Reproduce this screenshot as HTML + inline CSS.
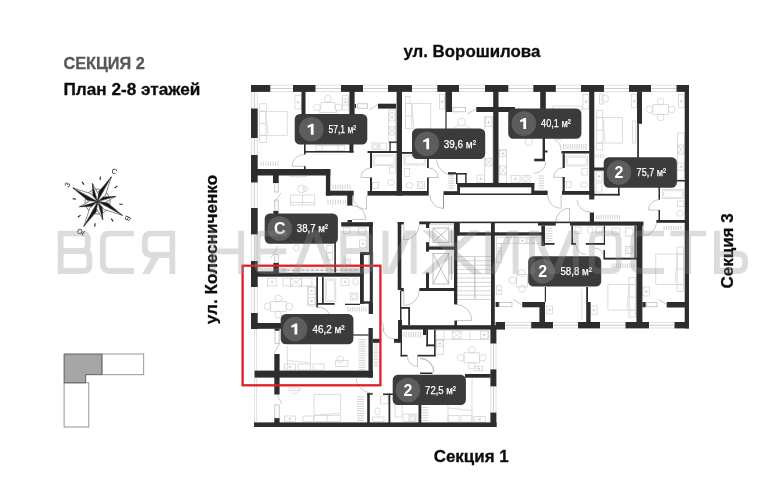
<!DOCTYPE html>
<html><head><meta charset="utf-8"><title>plan</title>
<style>
html,body{margin:0;padding:0;background:#fff;}
body{width:784px;height:500px;overflow:hidden;position:relative;font-family:"Liberation Sans",sans-serif;}
svg{position:absolute;left:0;top:0;will-change:transform;}
svg text{font-family:"Liberation Sans",sans-serif;}
</style></head><body>
<svg width="784" height="500" viewBox="0 0 784 500">
<g id="furn">
<line x1="270.3" y1="85.4" x2="293" y2="85.4" stroke="#d4d4d4" stroke-width="0.7"/>
<line x1="270.3" y1="88.45" x2="293" y2="88.45" stroke="#cccccc" stroke-width="1"/>
<line x1="270.3" y1="91.5" x2="293" y2="91.5" stroke="#d4d4d4" stroke-width="0.7"/>
<line x1="315.5" y1="85.4" x2="341" y2="85.4" stroke="#d4d4d4" stroke-width="0.7"/>
<line x1="315.5" y1="88.45" x2="341" y2="88.45" stroke="#cccccc" stroke-width="1"/>
<line x1="315.5" y1="91.5" x2="341" y2="91.5" stroke="#d4d4d4" stroke-width="0.7"/>
<line x1="363" y1="85.4" x2="388" y2="85.4" stroke="#d4d4d4" stroke-width="0.7"/>
<line x1="363" y1="88.45" x2="388" y2="88.45" stroke="#cccccc" stroke-width="1"/>
<line x1="363" y1="91.5" x2="388" y2="91.5" stroke="#d4d4d4" stroke-width="0.7"/>
<line x1="412" y1="85.4" x2="437.3" y2="85.4" stroke="#d4d4d4" stroke-width="0.7"/>
<line x1="412" y1="88.45" x2="437.3" y2="88.45" stroke="#cccccc" stroke-width="1"/>
<line x1="412" y1="91.5" x2="437.3" y2="91.5" stroke="#d4d4d4" stroke-width="0.7"/>
<line x1="459" y1="85.4" x2="485" y2="85.4" stroke="#d4d4d4" stroke-width="0.7"/>
<line x1="459" y1="88.45" x2="485" y2="88.45" stroke="#cccccc" stroke-width="1"/>
<line x1="459" y1="91.5" x2="485" y2="91.5" stroke="#d4d4d4" stroke-width="0.7"/>
<line x1="508.3" y1="85.4" x2="533.3" y2="85.4" stroke="#d4d4d4" stroke-width="0.7"/>
<line x1="508.3" y1="88.45" x2="533.3" y2="88.45" stroke="#cccccc" stroke-width="1"/>
<line x1="508.3" y1="91.5" x2="533.3" y2="91.5" stroke="#d4d4d4" stroke-width="0.7"/>
<line x1="555.8" y1="85.4" x2="581" y2="85.4" stroke="#d4d4d4" stroke-width="0.7"/>
<line x1="555.8" y1="88.45" x2="581" y2="88.45" stroke="#cccccc" stroke-width="1"/>
<line x1="555.8" y1="91.5" x2="581" y2="91.5" stroke="#d4d4d4" stroke-width="0.7"/>
<line x1="604" y1="85.4" x2="629" y2="85.4" stroke="#d4d4d4" stroke-width="0.7"/>
<line x1="604" y1="88.45" x2="629" y2="88.45" stroke="#cccccc" stroke-width="1"/>
<line x1="604" y1="91.5" x2="629" y2="91.5" stroke="#d4d4d4" stroke-width="0.7"/>
<line x1="651" y1="85.4" x2="676.5" y2="85.4" stroke="#d4d4d4" stroke-width="0.7"/>
<line x1="651" y1="88.45" x2="676.5" y2="88.45" stroke="#cccccc" stroke-width="1"/>
<line x1="651" y1="91.5" x2="676.5" y2="91.5" stroke="#d4d4d4" stroke-width="0.7"/>
<line x1="251.4" y1="91.5" x2="251.4" y2="108.5" stroke="#d4d4d4" stroke-width="0.7"/>
<line x1="254.35" y1="91.5" x2="254.35" y2="108.5" stroke="#cccccc" stroke-width="1"/>
<line x1="257.3" y1="91.5" x2="257.3" y2="108.5" stroke="#d4d4d4" stroke-width="0.7"/>
<line x1="251.4" y1="138" x2="251.4" y2="155" stroke="#d4d4d4" stroke-width="0.7"/>
<line x1="254.35" y1="138" x2="254.35" y2="155" stroke="#cccccc" stroke-width="1"/>
<line x1="257.3" y1="138" x2="257.3" y2="155" stroke="#d4d4d4" stroke-width="0.7"/>
<line x1="251.4" y1="182.5" x2="251.4" y2="208" stroke="#d4d4d4" stroke-width="0.7"/>
<line x1="254.35" y1="182.5" x2="254.35" y2="208" stroke="#cccccc" stroke-width="1"/>
<line x1="257.3" y1="182.5" x2="257.3" y2="208" stroke="#d4d4d4" stroke-width="0.7"/>
<line x1="251.4" y1="234.4" x2="251.4" y2="261" stroke="#d4d4d4" stroke-width="0.7"/>
<line x1="254.35" y1="234.4" x2="254.35" y2="261" stroke="#cccccc" stroke-width="1"/>
<line x1="257.3" y1="234.4" x2="257.3" y2="261" stroke="#d4d4d4" stroke-width="0.7"/>
<line x1="251.4" y1="287" x2="251.4" y2="313" stroke="#d4d4d4" stroke-width="0.7"/>
<line x1="254.35" y1="287" x2="254.35" y2="313" stroke="#cccccc" stroke-width="1"/>
<line x1="257.3" y1="287" x2="257.3" y2="313" stroke="#d4d4d4" stroke-width="0.7"/>
<rect x="254.6" y="329" width="2" height="93.4" fill="none" stroke="#cfcfcf" stroke-width="0.6"/>
<line x1="505" y1="322.4" x2="531.2" y2="322.4" stroke="#d4d4d4" stroke-width="0.7"/>
<line x1="505" y1="325.2" x2="531.2" y2="325.2" stroke="#cccccc" stroke-width="1"/>
<line x1="505" y1="328" x2="531.2" y2="328" stroke="#d4d4d4" stroke-width="0.7"/>
<line x1="553" y1="322.4" x2="578" y2="322.4" stroke="#d4d4d4" stroke-width="0.7"/>
<line x1="553" y1="325.2" x2="578" y2="325.2" stroke="#cccccc" stroke-width="1"/>
<line x1="553" y1="328" x2="578" y2="328" stroke="#d4d4d4" stroke-width="0.7"/>
<line x1="600" y1="322.4" x2="625.5" y2="322.4" stroke="#d4d4d4" stroke-width="0.7"/>
<line x1="600" y1="325.2" x2="625.5" y2="325.2" stroke="#cccccc" stroke-width="1"/>
<line x1="600" y1="328" x2="625.5" y2="328" stroke="#d4d4d4" stroke-width="0.7"/>
<line x1="649" y1="322.4" x2="674.5" y2="322.4" stroke="#d4d4d4" stroke-width="0.7"/>
<line x1="649" y1="325.2" x2="674.5" y2="325.2" stroke="#cccccc" stroke-width="1"/>
<line x1="649" y1="328" x2="674.5" y2="328" stroke="#d4d4d4" stroke-width="0.7"/>
<line x1="490.8" y1="343.5" x2="490.8" y2="369.4" stroke="#d4d4d4" stroke-width="0.7"/>
<line x1="493.4" y1="343.5" x2="493.4" y2="369.4" stroke="#cccccc" stroke-width="1"/>
<line x1="496" y1="343.5" x2="496" y2="369.4" stroke="#d4d4d4" stroke-width="0.7"/>
<line x1="490.8" y1="386.4" x2="490.8" y2="412.6" stroke="#d4d4d4" stroke-width="0.7"/>
<line x1="493.4" y1="386.4" x2="493.4" y2="412.6" stroke="#cccccc" stroke-width="1"/>
<line x1="496" y1="386.4" x2="496" y2="412.6" stroke="#d4d4d4" stroke-width="0.7"/>
<line x1="261" y1="161.5" x2="261" y2="166" stroke="#c8c8c8" stroke-width="0.8"/>
<line x1="263.429" y1="161.5" x2="263.429" y2="166" stroke="#c8c8c8" stroke-width="0.8"/>
<line x1="265.857" y1="161.5" x2="265.857" y2="166" stroke="#c8c8c8" stroke-width="0.8"/>
<line x1="268.286" y1="161.5" x2="268.286" y2="166" stroke="#c8c8c8" stroke-width="0.8"/>
<line x1="270.714" y1="161.5" x2="270.714" y2="166" stroke="#c8c8c8" stroke-width="0.8"/>
<line x1="273.143" y1="161.5" x2="273.143" y2="166" stroke="#c8c8c8" stroke-width="0.8"/>
<line x1="275.571" y1="161.5" x2="275.571" y2="166" stroke="#c8c8c8" stroke-width="0.8"/>
<line x1="278" y1="161.5" x2="278" y2="166" stroke="#c8c8c8" stroke-width="0.8"/>
<line x1="333" y1="184.5" x2="333" y2="189" stroke="#c8c8c8" stroke-width="0.8"/>
<line x1="335.429" y1="184.5" x2="335.429" y2="189" stroke="#c8c8c8" stroke-width="0.8"/>
<line x1="337.857" y1="184.5" x2="337.857" y2="189" stroke="#c8c8c8" stroke-width="0.8"/>
<line x1="340.286" y1="184.5" x2="340.286" y2="189" stroke="#c8c8c8" stroke-width="0.8"/>
<line x1="342.714" y1="184.5" x2="342.714" y2="189" stroke="#c8c8c8" stroke-width="0.8"/>
<line x1="345.143" y1="184.5" x2="345.143" y2="189" stroke="#c8c8c8" stroke-width="0.8"/>
<line x1="347.571" y1="184.5" x2="347.571" y2="189" stroke="#c8c8c8" stroke-width="0.8"/>
<line x1="350" y1="184.5" x2="350" y2="189" stroke="#c8c8c8" stroke-width="0.8"/>
<line x1="328" y1="199.8" x2="328" y2="204.5" stroke="#c8c8c8" stroke-width="0.8"/>
<line x1="330.5" y1="199.8" x2="330.5" y2="204.5" stroke="#c8c8c8" stroke-width="0.8"/>
<line x1="333" y1="199.8" x2="333" y2="204.5" stroke="#c8c8c8" stroke-width="0.8"/>
<line x1="335.5" y1="199.8" x2="335.5" y2="204.5" stroke="#c8c8c8" stroke-width="0.8"/>
<line x1="338" y1="199.8" x2="338" y2="204.5" stroke="#c8c8c8" stroke-width="0.8"/>
<line x1="340.5" y1="199.8" x2="340.5" y2="204.5" stroke="#c8c8c8" stroke-width="0.8"/>
<line x1="343" y1="199.8" x2="343" y2="204.5" stroke="#c8c8c8" stroke-width="0.8"/>
<line x1="345.5" y1="199.8" x2="345.5" y2="204.5" stroke="#c8c8c8" stroke-width="0.8"/>
<line x1="358.5" y1="339.5" x2="365.5" y2="339.5" stroke="#c8c8c8" stroke-width="0.8"/>
<line x1="358.5" y1="341.821" x2="365.5" y2="341.821" stroke="#c8c8c8" stroke-width="0.8"/>
<line x1="358.5" y1="344.143" x2="365.5" y2="344.143" stroke="#c8c8c8" stroke-width="0.8"/>
<line x1="358.5" y1="346.464" x2="365.5" y2="346.464" stroke="#c8c8c8" stroke-width="0.8"/>
<line x1="358.5" y1="348.786" x2="365.5" y2="348.786" stroke="#c8c8c8" stroke-width="0.8"/>
<line x1="358.5" y1="351.107" x2="365.5" y2="351.107" stroke="#c8c8c8" stroke-width="0.8"/>
<line x1="358.5" y1="353.429" x2="365.5" y2="353.429" stroke="#c8c8c8" stroke-width="0.8"/>
<line x1="358.5" y1="355.75" x2="365.5" y2="355.75" stroke="#c8c8c8" stroke-width="0.8"/>
<line x1="358.5" y1="358.071" x2="365.5" y2="358.071" stroke="#c8c8c8" stroke-width="0.8"/>
<line x1="358.5" y1="360.393" x2="365.5" y2="360.393" stroke="#c8c8c8" stroke-width="0.8"/>
<line x1="358.5" y1="362.714" x2="365.5" y2="362.714" stroke="#c8c8c8" stroke-width="0.8"/>
<line x1="358.5" y1="365.036" x2="365.5" y2="365.036" stroke="#c8c8c8" stroke-width="0.8"/>
<line x1="358.5" y1="367.357" x2="365.5" y2="367.357" stroke="#c8c8c8" stroke-width="0.8"/>
<line x1="358.5" y1="369.679" x2="365.5" y2="369.679" stroke="#c8c8c8" stroke-width="0.8"/>
<line x1="358.5" y1="372" x2="365.5" y2="372" stroke="#c8c8c8" stroke-width="0.8"/>
<line x1="374" y1="344" x2="378" y2="344" stroke="#c8c8c8" stroke-width="0.8"/>
<line x1="374" y1="346.2" x2="378" y2="346.2" stroke="#c8c8c8" stroke-width="0.8"/>
<line x1="374" y1="348.4" x2="378" y2="348.4" stroke="#c8c8c8" stroke-width="0.8"/>
<line x1="374" y1="350.6" x2="378" y2="350.6" stroke="#c8c8c8" stroke-width="0.8"/>
<line x1="374" y1="352.8" x2="378" y2="352.8" stroke="#c8c8c8" stroke-width="0.8"/>
<line x1="374" y1="355" x2="378" y2="355" stroke="#c8c8c8" stroke-width="0.8"/>
<line x1="374" y1="357.2" x2="378" y2="357.2" stroke="#c8c8c8" stroke-width="0.8"/>
<line x1="374" y1="359.4" x2="378" y2="359.4" stroke="#c8c8c8" stroke-width="0.8"/>
<line x1="374" y1="361.6" x2="378" y2="361.6" stroke="#c8c8c8" stroke-width="0.8"/>
<line x1="374" y1="363.8" x2="378" y2="363.8" stroke="#c8c8c8" stroke-width="0.8"/>
<line x1="374" y1="366" x2="378" y2="366" stroke="#c8c8c8" stroke-width="0.8"/>
<line x1="563.5" y1="144" x2="563.5" y2="149.5" stroke="#c8c8c8" stroke-width="0.8"/>
<line x1="565.75" y1="144" x2="565.75" y2="149.5" stroke="#c8c8c8" stroke-width="0.8"/>
<line x1="568" y1="144" x2="568" y2="149.5" stroke="#c8c8c8" stroke-width="0.8"/>
<line x1="570.25" y1="144" x2="570.25" y2="149.5" stroke="#c8c8c8" stroke-width="0.8"/>
<line x1="572.5" y1="144" x2="572.5" y2="149.5" stroke="#c8c8c8" stroke-width="0.8"/>
<line x1="574.75" y1="144" x2="574.75" y2="149.5" stroke="#c8c8c8" stroke-width="0.8"/>
<line x1="577" y1="144" x2="577" y2="149.5" stroke="#c8c8c8" stroke-width="0.8"/>
<line x1="579.25" y1="144" x2="579.25" y2="149.5" stroke="#c8c8c8" stroke-width="0.8"/>
<line x1="581.5" y1="144" x2="581.5" y2="149.5" stroke="#c8c8c8" stroke-width="0.8"/>
<line x1="583.75" y1="144" x2="583.75" y2="149.5" stroke="#c8c8c8" stroke-width="0.8"/>
<line x1="586" y1="144" x2="586" y2="149.5" stroke="#c8c8c8" stroke-width="0.8"/>
<line x1="348" y1="307" x2="348" y2="311.5" stroke="#c8c8c8" stroke-width="0.8"/>
<line x1="350.25" y1="307" x2="350.25" y2="311.5" stroke="#c8c8c8" stroke-width="0.8"/>
<line x1="352.5" y1="307" x2="352.5" y2="311.5" stroke="#c8c8c8" stroke-width="0.8"/>
<line x1="354.75" y1="307" x2="354.75" y2="311.5" stroke="#c8c8c8" stroke-width="0.8"/>
<line x1="357" y1="307" x2="357" y2="311.5" stroke="#c8c8c8" stroke-width="0.8"/>
<line x1="359.25" y1="307" x2="359.25" y2="311.5" stroke="#c8c8c8" stroke-width="0.8"/>
<line x1="361.5" y1="307" x2="361.5" y2="311.5" stroke="#c8c8c8" stroke-width="0.8"/>
<line x1="363.75" y1="307" x2="363.75" y2="311.5" stroke="#c8c8c8" stroke-width="0.8"/>
<line x1="366" y1="307" x2="366" y2="311.5" stroke="#c8c8c8" stroke-width="0.8"/>
<line x1="596" y1="154" x2="596" y2="158" stroke="#c8c8c8" stroke-width="0.8"/>
<line x1="598.333" y1="154" x2="598.333" y2="158" stroke="#c8c8c8" stroke-width="0.8"/>
<line x1="600.667" y1="154" x2="600.667" y2="158" stroke="#c8c8c8" stroke-width="0.8"/>
<line x1="603" y1="154" x2="603" y2="158" stroke="#c8c8c8" stroke-width="0.8"/>
<line x1="596.5" y1="214.8" x2="596.5" y2="219.4" stroke="#c8c8c8" stroke-width="0.8"/>
<line x1="598.8" y1="214.8" x2="598.8" y2="219.4" stroke="#c8c8c8" stroke-width="0.8"/>
<line x1="601.1" y1="214.8" x2="601.1" y2="219.4" stroke="#c8c8c8" stroke-width="0.8"/>
<line x1="603.4" y1="214.8" x2="603.4" y2="219.4" stroke="#c8c8c8" stroke-width="0.8"/>
<line x1="605.7" y1="214.8" x2="605.7" y2="219.4" stroke="#c8c8c8" stroke-width="0.8"/>
<line x1="608" y1="214.8" x2="608" y2="219.4" stroke="#c8c8c8" stroke-width="0.8"/>
<line x1="610.3" y1="214.8" x2="610.3" y2="219.4" stroke="#c8c8c8" stroke-width="0.8"/>
<line x1="612.6" y1="214.8" x2="612.6" y2="219.4" stroke="#c8c8c8" stroke-width="0.8"/>
<line x1="614.9" y1="214.8" x2="614.9" y2="219.4" stroke="#c8c8c8" stroke-width="0.8"/>
<line x1="617.2" y1="214.8" x2="617.2" y2="219.4" stroke="#c8c8c8" stroke-width="0.8"/>
<line x1="619.5" y1="214.8" x2="619.5" y2="219.4" stroke="#c8c8c8" stroke-width="0.8"/>
<line x1="664" y1="226" x2="664" y2="230" stroke="#c8c8c8" stroke-width="0.8"/>
<line x1="666.429" y1="226" x2="666.429" y2="230" stroke="#c8c8c8" stroke-width="0.8"/>
<line x1="668.857" y1="226" x2="668.857" y2="230" stroke="#c8c8c8" stroke-width="0.8"/>
<line x1="671.286" y1="226" x2="671.286" y2="230" stroke="#c8c8c8" stroke-width="0.8"/>
<line x1="673.714" y1="226" x2="673.714" y2="230" stroke="#c8c8c8" stroke-width="0.8"/>
<line x1="676.143" y1="226" x2="676.143" y2="230" stroke="#c8c8c8" stroke-width="0.8"/>
<line x1="678.571" y1="226" x2="678.571" y2="230" stroke="#c8c8c8" stroke-width="0.8"/>
<line x1="681" y1="226" x2="681" y2="230" stroke="#c8c8c8" stroke-width="0.8"/>
<line x1="357" y1="397" x2="364" y2="397" stroke="#c8c8c8" stroke-width="0.8"/>
<line x1="357" y1="399.35" x2="364" y2="399.35" stroke="#c8c8c8" stroke-width="0.8"/>
<line x1="357" y1="401.7" x2="364" y2="401.7" stroke="#c8c8c8" stroke-width="0.8"/>
<line x1="357" y1="404.05" x2="364" y2="404.05" stroke="#c8c8c8" stroke-width="0.8"/>
<line x1="357" y1="406.4" x2="364" y2="406.4" stroke="#c8c8c8" stroke-width="0.8"/>
<line x1="357" y1="408.75" x2="364" y2="408.75" stroke="#c8c8c8" stroke-width="0.8"/>
<line x1="357" y1="411.1" x2="364" y2="411.1" stroke="#c8c8c8" stroke-width="0.8"/>
<line x1="357" y1="413.45" x2="364" y2="413.45" stroke="#c8c8c8" stroke-width="0.8"/>
<line x1="357" y1="415.8" x2="364" y2="415.8" stroke="#c8c8c8" stroke-width="0.8"/>
<line x1="357" y1="418.15" x2="364" y2="418.15" stroke="#c8c8c8" stroke-width="0.8"/>
<line x1="357" y1="420.5" x2="364" y2="420.5" stroke="#c8c8c8" stroke-width="0.8"/>
<line x1="422.3" y1="407.5" x2="428.3" y2="407.5" stroke="#c8c8c8" stroke-width="0.8"/>
<line x1="422.3" y1="410.1" x2="428.3" y2="410.1" stroke="#c8c8c8" stroke-width="0.8"/>
<line x1="422.3" y1="412.7" x2="428.3" y2="412.7" stroke="#c8c8c8" stroke-width="0.8"/>
<line x1="422.3" y1="415.3" x2="428.3" y2="415.3" stroke="#c8c8c8" stroke-width="0.8"/>
<line x1="422.3" y1="417.9" x2="428.3" y2="417.9" stroke="#c8c8c8" stroke-width="0.8"/>
<line x1="422.3" y1="420.5" x2="428.3" y2="420.5" stroke="#c8c8c8" stroke-width="0.8"/>
<line x1="404" y1="332" x2="404" y2="337.5" stroke="#c8c8c8" stroke-width="0.8"/>
<line x1="406.357" y1="332" x2="406.357" y2="337.5" stroke="#c8c8c8" stroke-width="0.8"/>
<line x1="408.714" y1="332" x2="408.714" y2="337.5" stroke="#c8c8c8" stroke-width="0.8"/>
<line x1="411.071" y1="332" x2="411.071" y2="337.5" stroke="#c8c8c8" stroke-width="0.8"/>
<line x1="413.429" y1="332" x2="413.429" y2="337.5" stroke="#c8c8c8" stroke-width="0.8"/>
<line x1="415.786" y1="332" x2="415.786" y2="337.5" stroke="#c8c8c8" stroke-width="0.8"/>
<line x1="418.143" y1="332" x2="418.143" y2="337.5" stroke="#c8c8c8" stroke-width="0.8"/>
<line x1="420.5" y1="332" x2="420.5" y2="337.5" stroke="#c8c8c8" stroke-width="0.8"/>
<line x1="612" y1="263.5" x2="612" y2="268" stroke="#c8c8c8" stroke-width="0.8"/>
<line x1="614.2" y1="263.5" x2="614.2" y2="268" stroke="#c8c8c8" stroke-width="0.8"/>
<line x1="616.4" y1="263.5" x2="616.4" y2="268" stroke="#c8c8c8" stroke-width="0.8"/>
<line x1="618.6" y1="263.5" x2="618.6" y2="268" stroke="#c8c8c8" stroke-width="0.8"/>
<line x1="620.8" y1="263.5" x2="620.8" y2="268" stroke="#c8c8c8" stroke-width="0.8"/>
<line x1="623" y1="263.5" x2="623" y2="268" stroke="#c8c8c8" stroke-width="0.8"/>
<line x1="625.2" y1="263.5" x2="625.2" y2="268" stroke="#c8c8c8" stroke-width="0.8"/>
<line x1="627.4" y1="263.5" x2="627.4" y2="268" stroke="#c8c8c8" stroke-width="0.8"/>
<line x1="629.6" y1="263.5" x2="629.6" y2="268" stroke="#c8c8c8" stroke-width="0.8"/>
<line x1="631.8" y1="263.5" x2="631.8" y2="268" stroke="#c8c8c8" stroke-width="0.8"/>
<line x1="634" y1="263.5" x2="634" y2="268" stroke="#c8c8c8" stroke-width="0.8"/>
<rect x="652.85" y="104.4" width="15.5" height="10" fill="none" stroke="#cfcfcf" stroke-width="0.7"/>
<circle cx="660.6" cy="101.4" r="3.4" fill="none" stroke="#cfcfcf" stroke-width="0.7"/>
<circle cx="660.6" cy="117.4" r="3.4" fill="none" stroke="#cfcfcf" stroke-width="0.7"/>
<circle cx="649.6" cy="109.4" r="3.4" fill="none" stroke="#cfcfcf" stroke-width="0.7"/>
<circle cx="671.6" cy="109.4" r="3.4" fill="none" stroke="#cfcfcf" stroke-width="0.7"/>
<rect x="270.65" y="301.5" width="15.5" height="10" fill="none" stroke="#cfcfcf" stroke-width="0.7"/>
<circle cx="278.4" cy="298.5" r="3.4" fill="none" stroke="#cfcfcf" stroke-width="0.7"/>
<circle cx="278.4" cy="314.5" r="3.4" fill="none" stroke="#cfcfcf" stroke-width="0.7"/>
<circle cx="267.4" cy="306.5" r="3.4" fill="none" stroke="#cfcfcf" stroke-width="0.7"/>
<circle cx="289.4" cy="306.5" r="3.4" fill="none" stroke="#cfcfcf" stroke-width="0.7"/>
<rect x="464.05" y="352.8" width="15.5" height="10" fill="none" stroke="#cfcfcf" stroke-width="0.7"/>
<circle cx="471.8" cy="349.8" r="3.4" fill="none" stroke="#cfcfcf" stroke-width="0.7"/>
<circle cx="471.8" cy="365.8" r="3.4" fill="none" stroke="#cfcfcf" stroke-width="0.7"/>
<circle cx="460.8" cy="357.8" r="3.4" fill="none" stroke="#cfcfcf" stroke-width="0.7"/>
<circle cx="482.8" cy="357.8" r="3.4" fill="none" stroke="#cfcfcf" stroke-width="0.7"/>
<circle cx="327.9" cy="98.8" r="3.4" fill="none" stroke="#cfcfcf" stroke-width="0.7"/>
<circle cx="316.9" cy="107.4" r="3.4" fill="none" stroke="#cfcfcf" stroke-width="0.7"/>
<circle cx="338.2" cy="107.4" r="3.4" fill="none" stroke="#cfcfcf" stroke-width="0.7"/>
<path d="M319.5 112.5L321.5 102.5H334.5L336.5 112.5Z" fill="none" stroke="#cfcfcf" stroke-width="0.7"/>
<rect x="259.7" y="111.7" width="27.5" height="23.6" fill="none" stroke="#cfcfcf" stroke-width="0.7"/>
<line x1="265.9" y1="111.7" x2="265.9" y2="135.3" stroke="#cfcfcf" stroke-width="0.7"/>
<line x1="259.7" y1="123.5" x2="265.9" y2="123.5" stroke="#cfcfcf" stroke-width="0.7"/>
<line x1="265.9" y1="112.7" x2="268.1" y2="134.3" stroke="#cfcfcf" stroke-width="0.7"/>
<rect x="259.7" y="103.8" width="6.6" height="7.2" fill="none" stroke="#cfcfcf" stroke-width="0.7"/>
<rect x="259.7" y="135.3" width="6.6" height="7.2" fill="none" stroke="#cfcfcf" stroke-width="0.7"/>
<rect x="294.9" y="95.7" width="6.4" height="13.2" fill="none" stroke="#cfcfcf" stroke-width="0.7"/>
<line x1="296.8" y1="102.3" x2="299.4" y2="102.3" stroke="#bdbdbd" stroke-width="0.7"/>
<line x1="298.1" y1="101" x2="298.1" y2="103.6" stroke="#bdbdbd" stroke-width="0.7"/>
<rect x="342.2" y="95.7" width="6.3" height="14.3" fill="none" stroke="#cfcfcf" stroke-width="0.7"/>
<rect x="342.6" y="99" width="5.6" height="6" fill="none" stroke="#cfcfcf" stroke-width="0.7"/>
<line x1="344.1" y1="102" x2="346.7" y2="102" stroke="#bdbdbd" stroke-width="0.7"/>
<line x1="345.4" y1="100.7" x2="345.4" y2="103.3" stroke="#bdbdbd" stroke-width="0.7"/>
<rect x="315.8" y="145.6" width="28.6" height="4.9" fill="none" stroke="#cfcfcf" stroke-width="0.7"/>
<line x1="322" y1="145.6" x2="322" y2="150.5" stroke="#cfcfcf" stroke-width="0.7"/>
<line x1="338" y1="145.6" x2="338" y2="150.5" stroke="#cfcfcf" stroke-width="0.7"/>
<rect x="388.4" y="110" width="7.2" height="33" fill="none" stroke="#cfcfcf" stroke-width="0.7"/>
<rect x="389" y="126.5" width="6" height="8.5" fill="none" stroke="#cfcfcf" stroke-width="0.7"/>
<line x1="389" y1="126.5" x2="395" y2="135" stroke="#cfcfcf" stroke-width="0.7"/>
<line x1="395" y1="126.5" x2="389" y2="135" stroke="#cfcfcf" stroke-width="0.7"/>
<rect x="389" y="113" width="6" height="8" fill="none" stroke="#cfcfcf" stroke-width="0.7"/>
<line x1="390.7" y1="117" x2="393.3" y2="117" stroke="#bdbdbd" stroke-width="0.7"/>
<line x1="392" y1="115.7" x2="392" y2="118.3" stroke="#bdbdbd" stroke-width="0.7"/>
<rect x="371.9" y="143" width="6.6" height="6.8" fill="none" stroke="#cfcfcf" stroke-width="0.7"/>
<circle cx="375.2" cy="146.4" r="2.1" fill="none" stroke="#cfcfcf" stroke-width="0.7"/>
<rect x="380" y="143" width="6.5" height="6.8" fill="none" stroke="#cfcfcf" stroke-width="0.7"/>
<rect x="373" y="155" width="22.3" height="10.5" fill="none" stroke="#cfcfcf" stroke-width="0.7"/>
<rect x="374.2" y="156.2" width="19.9" height="8.1" rx="2.5" fill="none" stroke="#cfcfcf" stroke-width="0.6"/>
<rect x="389.5" y="167" width="5.8" height="6" fill="none" stroke="#cfcfcf" stroke-width="0.7"/>
<ellipse cx="391" cy="182.5" rx="3.6" ry="2.8" fill="none" stroke="#cfcfcf" stroke-width="0.7"/>
<rect x="372.5" y="182.6" width="6" height="5.9" fill="none" stroke="#cfcfcf" stroke-width="0.7"/>
<rect x="405.5" y="103.4" width="25.3" height="25.3" fill="none" stroke="#cfcfcf" stroke-width="0.7"/>
<line x1="411.7" y1="103.4" x2="411.7" y2="128.7" stroke="#cfcfcf" stroke-width="0.7"/>
<line x1="405.5" y1="116.05" x2="411.7" y2="116.05" stroke="#cfcfcf" stroke-width="0.7"/>
<line x1="411.7" y1="104.4" x2="413.9" y2="127.7" stroke="#cfcfcf" stroke-width="0.7"/>
<rect x="405.5" y="96.5" width="4.5" height="6.9" fill="none" stroke="#cfcfcf" stroke-width="0.7"/>
<rect x="439.6" y="94.6" width="5" height="14.3" fill="none" stroke="#cfcfcf" stroke-width="0.7"/>
<line x1="440.8" y1="101.75" x2="443.4" y2="101.75" stroke="#bdbdbd" stroke-width="0.7"/>
<line x1="442.1" y1="100.45" x2="442.1" y2="103.05" stroke="#bdbdbd" stroke-width="0.7"/>
<circle cx="461.6" cy="122" r="3.8" fill="none" stroke="#cfcfcf" stroke-width="0.7"/>
<path d="M452.5 129L458.5 124.5M470.7 129L464.7 124.5M455 129H468" fill="none" stroke="#cfcfcf" stroke-width="0.7"/>
<rect x="484.7" y="116.6" width="7.9" height="66.4" fill="none" stroke="#cfcfcf" stroke-width="0.7"/>
<rect x="485.3" y="118" width="6.7" height="8.5" fill="none" stroke="#cfcfcf" stroke-width="0.7"/>
<line x1="487.35" y1="122.25" x2="489.95" y2="122.25" stroke="#bdbdbd" stroke-width="0.7"/>
<line x1="488.65" y1="120.95" x2="488.65" y2="123.55" stroke="#bdbdbd" stroke-width="0.7"/>
<rect x="485.3" y="158.4" width="6.7" height="7.6" fill="none" stroke="#cfcfcf" stroke-width="0.7"/>
<line x1="485.3" y1="158.4" x2="492" y2="166" stroke="#cfcfcf" stroke-width="0.7"/>
<line x1="492" y1="158.4" x2="485.3" y2="166" stroke="#cfcfcf" stroke-width="0.7"/>
<rect x="477" y="175" width="7.6" height="7.7" fill="none" stroke="#cfcfcf" stroke-width="0.7"/>
<line x1="479.5" y1="178.85" x2="482.1" y2="178.85" stroke="#bdbdbd" stroke-width="0.7"/>
<line x1="480.8" y1="177.55" x2="480.8" y2="180.15" stroke="#bdbdbd" stroke-width="0.7"/>
<rect x="404" y="155" width="21.5" height="10" fill="none" stroke="#cfcfcf" stroke-width="0.7"/>
<rect x="405.2" y="156.2" width="19.1" height="7.6" rx="2.5" fill="none" stroke="#cfcfcf" stroke-width="0.6"/>
<rect x="404.3" y="168.5" width="5.5" height="8" fill="none" stroke="#cfcfcf" stroke-width="0.7"/>
<ellipse cx="409.3" cy="185.5" rx="3.6" ry="2.8" fill="none" stroke="#cfcfcf" stroke-width="0.7"/>
<rect x="417.5" y="181.5" width="7" height="7" fill="none" stroke="#cfcfcf" stroke-width="0.7"/>
<circle cx="421" cy="185" r="2.3" fill="none" stroke="#cfcfcf" stroke-width="0.7"/>
<line x1="448.3" y1="176" x2="454" y2="176" stroke="#c8c8c8" stroke-width="0.8"/>
<line x1="448.3" y1="178.4" x2="454" y2="178.4" stroke="#c8c8c8" stroke-width="0.8"/>
<line x1="448.3" y1="180.8" x2="454" y2="180.8" stroke="#c8c8c8" stroke-width="0.8"/>
<line x1="448.3" y1="183.2" x2="454" y2="183.2" stroke="#c8c8c8" stroke-width="0.8"/>
<line x1="448.3" y1="185.6" x2="454" y2="185.6" stroke="#c8c8c8" stroke-width="0.8"/>
<line x1="448.3" y1="188" x2="454" y2="188" stroke="#c8c8c8" stroke-width="0.8"/>
<rect x="499" y="149.6" width="7.7" height="33.4" fill="none" stroke="#cfcfcf" stroke-width="0.7"/>
<rect x="499.6" y="150.7" width="6.6" height="5.8" fill="none" stroke="#cfcfcf" stroke-width="0.7"/>
<line x1="501.6" y1="153.6" x2="504.2" y2="153.6" stroke="#bdbdbd" stroke-width="0.7"/>
<line x1="502.9" y1="152.3" x2="502.9" y2="154.9" stroke="#bdbdbd" stroke-width="0.7"/>
<rect x="499.6" y="166" width="6.6" height="8.9" fill="none" stroke="#cfcfcf" stroke-width="0.7"/>
<line x1="499.6" y1="166" x2="506.2" y2="174.9" stroke="#cfcfcf" stroke-width="0.7"/>
<line x1="506.2" y1="166" x2="499.6" y2="174.9" stroke="#cfcfcf" stroke-width="0.7"/>
<rect x="511" y="175.5" width="9" height="7.1" fill="none" stroke="#cfcfcf" stroke-width="0.7"/>
<line x1="514.2" y1="179.05" x2="516.8" y2="179.05" stroke="#bdbdbd" stroke-width="0.7"/>
<line x1="515.5" y1="177.75" x2="515.5" y2="180.35" stroke="#bdbdbd" stroke-width="0.7"/>
<rect x="522" y="175.5" width="8" height="7.1" fill="none" stroke="#cfcfcf" stroke-width="0.7"/>
<circle cx="526" cy="179.05" r="2.35" fill="none" stroke="#cfcfcf" stroke-width="0.7"/>
<circle cx="528.7" cy="141.9" r="3.8" fill="none" stroke="#cfcfcf" stroke-width="0.7"/>
<path d="M520 134.5L526 139.3M537.5 134.5L531.5 139.3" fill="none" stroke="#cfcfcf" stroke-width="0.7"/>
<line x1="538.6" y1="176" x2="544" y2="176" stroke="#c8c8c8" stroke-width="0.8"/>
<line x1="538.6" y1="178.4" x2="544" y2="178.4" stroke="#c8c8c8" stroke-width="0.8"/>
<line x1="538.6" y1="180.8" x2="544" y2="180.8" stroke="#c8c8c8" stroke-width="0.8"/>
<line x1="538.6" y1="183.2" x2="544" y2="183.2" stroke="#c8c8c8" stroke-width="0.8"/>
<line x1="538.6" y1="185.6" x2="544" y2="185.6" stroke="#c8c8c8" stroke-width="0.8"/>
<line x1="538.6" y1="188" x2="544" y2="188" stroke="#c8c8c8" stroke-width="0.8"/>
<rect x="553" y="106" width="29" height="4" fill="none" stroke="#cfcfcf" stroke-width="0.7"/>
<rect x="582.9" y="94.6" width="6.1" height="14.3" fill="none" stroke="#cfcfcf" stroke-width="0.7"/>
<line x1="584.65" y1="101.75" x2="587.25" y2="101.75" stroke="#bdbdbd" stroke-width="0.7"/>
<line x1="585.95" y1="100.45" x2="585.95" y2="103.05" stroke="#bdbdbd" stroke-width="0.7"/>
<rect x="566" y="156" width="21.6" height="10" fill="none" stroke="#cfcfcf" stroke-width="0.7"/>
<rect x="567.2" y="157.2" width="19.2" height="7.6" rx="2.5" fill="none" stroke="#cfcfcf" stroke-width="0.6"/>
<rect x="581.8" y="168.3" width="5.8" height="6.7" fill="none" stroke="#cfcfcf" stroke-width="0.7"/>
<ellipse cx="584" cy="184.8" rx="3.6" ry="2.8" fill="none" stroke="#cfcfcf" stroke-width="0.7"/>
<rect x="566.4" y="181.5" width="4.6" height="6" fill="none" stroke="#cfcfcf" stroke-width="0.7"/>
<circle cx="604.9" cy="98.6" r="3.6" fill="none" stroke="#cfcfcf" stroke-width="0.7"/>
<rect x="599.5" y="94" width="3.5" height="10" fill="none" stroke="#cfcfcf" stroke-width="0.7"/>
<rect x="631.3" y="94.6" width="5.5" height="13.2" fill="none" stroke="#cfcfcf" stroke-width="0.7"/>
<line x1="632.75" y1="101.2" x2="635.35" y2="101.2" stroke="#bdbdbd" stroke-width="0.7"/>
<line x1="634.05" y1="99.9" x2="634.05" y2="102.5" stroke="#bdbdbd" stroke-width="0.7"/>
<rect x="596.7" y="117.7" width="25.8" height="25.3" fill="none" stroke="#cfcfcf" stroke-width="0.7"/>
<line x1="602.9" y1="117.7" x2="602.9" y2="143" stroke="#cfcfcf" stroke-width="0.7"/>
<line x1="596.7" y1="130.35" x2="602.9" y2="130.35" stroke="#cfcfcf" stroke-width="0.7"/>
<line x1="602.9" y1="118.7" x2="605.1" y2="142" stroke="#cfcfcf" stroke-width="0.7"/>
<rect x="596.7" y="110.5" width="5.8" height="7.2" fill="none" stroke="#cfcfcf" stroke-width="0.7"/>
<rect x="596.7" y="143" width="5.8" height="7" fill="none" stroke="#cfcfcf" stroke-width="0.7"/>
<rect x="632.4" y="121" width="3.4" height="22" fill="none" stroke="#cfcfcf" stroke-width="0.7"/>
<rect x="678.6" y="94.6" width="5.6" height="13.2" fill="none" stroke="#cfcfcf" stroke-width="0.7"/>
<line x1="680.1" y1="101.2" x2="682.7" y2="101.2" stroke="#bdbdbd" stroke-width="0.7"/>
<line x1="681.4" y1="99.9" x2="681.4" y2="102.5" stroke="#bdbdbd" stroke-width="0.7"/>
<rect x="677.5" y="133" width="6.8" height="46" fill="none" stroke="#cfcfcf" stroke-width="0.7"/>
<rect x="678" y="145" width="6" height="9" fill="none" stroke="#cfcfcf" stroke-width="0.7"/>
<line x1="678" y1="145" x2="684" y2="154" stroke="#cfcfcf" stroke-width="0.7"/>
<line x1="684" y1="145" x2="678" y2="154" stroke="#cfcfcf" stroke-width="0.7"/>
<rect x="678" y="163" width="6" height="7.5" fill="none" stroke="#cfcfcf" stroke-width="0.7"/>
<line x1="679.7" y1="166.75" x2="682.3" y2="166.75" stroke="#bdbdbd" stroke-width="0.7"/>
<line x1="681" y1="165.45" x2="681" y2="168.05" stroke="#bdbdbd" stroke-width="0.7"/>
<rect x="596" y="171.5" width="6" height="9.5" fill="none" stroke="#cfcfcf" stroke-width="0.7"/>
<line x1="597.7" y1="176.25" x2="600.3" y2="176.25" stroke="#bdbdbd" stroke-width="0.7"/>
<line x1="599" y1="174.95" x2="599" y2="177.55" stroke="#bdbdbd" stroke-width="0.7"/>
<rect x="596" y="183" width="6" height="9" fill="none" stroke="#cfcfcf" stroke-width="0.7"/>
<rect x="662.3" y="189.5" width="21.5" height="9" fill="none" stroke="#cfcfcf" stroke-width="0.7"/>
<rect x="663.5" y="190.7" width="19.1" height="6.6" rx="2.5" fill="none" stroke="#cfcfcf" stroke-width="0.6"/>
<rect x="677.5" y="201" width="6" height="5.5" fill="none" stroke="#cfcfcf" stroke-width="0.7"/>
<ellipse cx="680" cy="213.5" rx="3.6" ry="2.8" fill="none" stroke="#cfcfcf" stroke-width="0.7"/>
<rect x="290.5" y="195" width="24.2" height="10" fill="none" stroke="#cfcfcf" stroke-width="0.7"/>
<line x1="302.6" y1="195" x2="302.6" y2="205" stroke="#cfcfcf" stroke-width="0.7"/>
<line x1="290.5" y1="202.5" x2="314.7" y2="202.5" stroke="#cfcfcf" stroke-width="0.7"/>
<circle cx="301.5" cy="189" r="3.8" fill="none" stroke="#cfcfcf" stroke-width="0.7"/>
<circle cx="305.3" cy="189" r="2.4" fill="none" stroke="#cfcfcf" stroke-width="0.7"/>
<path d="M289.4 176.2Q298 178 307 176.2" fill="none" stroke="#cfcfcf" stroke-width="0.7"/>
<circle cx="296.5" cy="248" r="3" fill="none" stroke="#cfcfcf" stroke-width="0.7"/>
<rect x="326.8" y="245.7" width="5.5" height="6.8" fill="none" stroke="#cfcfcf" stroke-width="0.7"/>
<rect x="326.8" y="253" width="5.5" height="7" fill="none" stroke="#cfcfcf" stroke-width="0.7"/>
<rect x="343.2" y="227.5" width="6.8" height="6" fill="none" stroke="#cfcfcf" stroke-width="0.7"/>
<rect x="359.5" y="240" width="6.5" height="7.5" fill="none" stroke="#cfcfcf" stroke-width="0.7"/>
<line x1="361.45" y1="243.75" x2="364.05" y2="243.75" stroke="#bdbdbd" stroke-width="0.7"/>
<line x1="362.75" y1="242.45" x2="362.75" y2="245.05" stroke="#bdbdbd" stroke-width="0.7"/>
<rect x="344" y="259" width="6.5" height="6.5" fill="none" stroke="#cfcfcf" stroke-width="0.7"/>
<circle cx="347.25" cy="262.25" r="2.05" fill="none" stroke="#cfcfcf" stroke-width="0.7"/>
<rect x="358.5" y="228" width="7" height="6" fill="none" stroke="#cfcfcf" stroke-width="0.7"/>
<rect x="267.5" y="278.2" width="9.3" height="7.8" fill="none" stroke="#cfcfcf" stroke-width="0.7"/>
<line x1="270.85" y1="282.1" x2="273.45" y2="282.1" stroke="#bdbdbd" stroke-width="0.7"/>
<line x1="272.15" y1="280.8" x2="272.15" y2="283.4" stroke="#bdbdbd" stroke-width="0.7"/>
<rect x="283" y="278.2" width="7.7" height="7.8" fill="none" stroke="#cfcfcf" stroke-width="0.7"/>
<rect x="290.7" y="278.2" width="10.9" height="8.1" fill="none" stroke="#cfcfcf" stroke-width="0.7"/>
<line x1="290.7" y1="278.2" x2="301.6" y2="286.3" stroke="#cfcfcf" stroke-width="0.7"/>
<line x1="301.6" y1="278.2" x2="290.7" y2="286.3" stroke="#cfcfcf" stroke-width="0.7"/>
<rect x="301.6" y="278.2" width="10.4" height="7.8" fill="none" stroke="#cfcfcf" stroke-width="0.7"/>
<rect x="307.8" y="286" width="7.8" height="20" fill="none" stroke="#cfcfcf" stroke-width="0.7"/>
<rect x="308.4" y="287.5" width="6.6" height="7" fill="none" stroke="#cfcfcf" stroke-width="0.7"/>
<line x1="310.4" y1="291" x2="313" y2="291" stroke="#bdbdbd" stroke-width="0.7"/>
<line x1="311.7" y1="289.7" x2="311.7" y2="292.3" stroke="#bdbdbd" stroke-width="0.7"/>
<rect x="308.4" y="297.5" width="6.6" height="7" fill="none" stroke="#cfcfcf" stroke-width="0.7"/>
<line x1="310.4" y1="301" x2="313" y2="301" stroke="#bdbdbd" stroke-width="0.7"/>
<line x1="311.7" y1="299.7" x2="311.7" y2="302.3" stroke="#bdbdbd" stroke-width="0.7"/>
<rect x="325.2" y="279" width="10.6" height="22.5" fill="none" stroke="#cfcfcf" stroke-width="0.7"/>
<rect x="326.4" y="280.2" width="8.2" height="20.1" rx="2.5" fill="none" stroke="#cfcfcf" stroke-width="0.6"/>
<rect x="341" y="278.5" width="8" height="7" fill="none" stroke="#cfcfcf" stroke-width="0.7"/>
<line x1="343.7" y1="282" x2="346.3" y2="282" stroke="#bdbdbd" stroke-width="0.7"/>
<line x1="345" y1="280.7" x2="345" y2="283.3" stroke="#bdbdbd" stroke-width="0.7"/>
<ellipse cx="355.5" cy="281.5" rx="2.8" ry="3.6" fill="none" stroke="#cfcfcf" stroke-width="0.7"/>
<rect x="350.5" y="293" width="7" height="7" fill="none" stroke="#cfcfcf" stroke-width="0.7"/>
<circle cx="354" cy="296.5" r="2.3" fill="none" stroke="#cfcfcf" stroke-width="0.7"/>
<line x1="287.3" y1="346" x2="287.3" y2="369.8" stroke="#cfcfcf" stroke-width="0.7"/>
<line x1="310.5" y1="346" x2="310.5" y2="369.8" stroke="#cfcfcf" stroke-width="0.7"/>
<line x1="287.3" y1="360.5" x2="310.5" y2="363" stroke="#cfcfcf" stroke-width="0.7"/>
<rect x="284.5" y="364" width="11" height="6" fill="none" stroke="#cfcfcf" stroke-width="0.7"/>
<line x1="288.7" y1="367" x2="291.3" y2="367" stroke="#bdbdbd" stroke-width="0.7"/>
<line x1="290" y1="365.7" x2="290" y2="368.3" stroke="#bdbdbd" stroke-width="0.7"/>
<rect x="298" y="364" width="12.5" height="6" fill="none" stroke="#cfcfcf" stroke-width="0.7"/>
<rect x="313" y="364" width="11" height="6" fill="none" stroke="#cfcfcf" stroke-width="0.7"/>
<rect x="335.7" y="360.5" width="12.3" height="6" fill="none" stroke="#cfcfcf" stroke-width="0.7"/>
<circle cx="340.3" cy="359.3" r="3.3" fill="none" stroke="#cfcfcf" stroke-width="0.7"/>
<rect x="314" y="394.3" width="26.3" height="27.3" fill="none" stroke="#cfcfcf" stroke-width="0.7"/>
<line x1="314" y1="415.4" x2="340.3" y2="415.4" stroke="#cfcfcf" stroke-width="0.7"/>
<line x1="327.15" y1="415.4" x2="327.15" y2="421.6" stroke="#cfcfcf" stroke-width="0.7"/>
<line x1="315" y1="415.4" x2="339.3" y2="413.2" stroke="#cfcfcf" stroke-width="0.7"/>
<rect x="284.5" y="416" width="10.9" height="5.6" fill="none" stroke="#cfcfcf" stroke-width="0.7"/>
<line x1="288.65" y1="418.8" x2="291.25" y2="418.8" stroke="#bdbdbd" stroke-width="0.7"/>
<line x1="289.95" y1="417.5" x2="289.95" y2="420.1" stroke="#bdbdbd" stroke-width="0.7"/>
<rect x="303" y="416" width="10.5" height="5.6" fill="none" stroke="#cfcfcf" stroke-width="0.7"/>
<rect x="289" y="388" width="11" height="2.5" fill="none" stroke="#cfcfcf" stroke-width="0.7"/>
<path d="M290.5 391.5Q294.5 395.5 298.5 391.5" fill="none" stroke="#cfcfcf" stroke-width="0.7"/>
<ellipse cx="377.5" cy="411.5" rx="2.8" ry="3.6" fill="none" stroke="#cfcfcf" stroke-width="0.7"/>
<rect x="380.6" y="396" width="7.4" height="7.8" fill="none" stroke="#cfcfcf" stroke-width="0.7"/>
<rect x="372.5" y="417" width="11.5" height="4.5" fill="none" stroke="#cfcfcf" stroke-width="0.7"/>
<rect x="395" y="404.8" width="7" height="12.2" fill="none" stroke="#cfcfcf" stroke-width="0.7"/>
<rect x="403" y="414" width="14" height="7.5" fill="none" stroke="#cfcfcf" stroke-width="0.7"/>
<rect x="409" y="415" width="6.5" height="6.5" fill="none" stroke="#cfcfcf" stroke-width="0.7"/>
<circle cx="412.25" cy="418.25" r="2.05" fill="none" stroke="#cfcfcf" stroke-width="0.7"/>
<rect x="436" y="330.6" width="52.5" height="8.7" fill="none" stroke="#cfcfcf" stroke-width="0.7"/>
<rect x="452.3" y="331.2" width="8.7" height="7.6" fill="none" stroke="#cfcfcf" stroke-width="0.7"/>
<line x1="452.3" y1="331.2" x2="461" y2="338.8" stroke="#cfcfcf" stroke-width="0.7"/>
<line x1="461" y1="331.2" x2="452.3" y2="338.8" stroke="#cfcfcf" stroke-width="0.7"/>
<rect x="480.5" y="331.2" width="7.5" height="7.6" fill="none" stroke="#cfcfcf" stroke-width="0.7"/>
<line x1="482.95" y1="335" x2="485.55" y2="335" stroke="#bdbdbd" stroke-width="0.7"/>
<line x1="484.25" y1="333.7" x2="484.25" y2="336.3" stroke="#bdbdbd" stroke-width="0.7"/>
<line x1="444" y1="330.6" x2="444" y2="339.3" stroke="#cfcfcf" stroke-width="0.7"/>
<line x1="470" y1="330.6" x2="470" y2="339.3" stroke="#cfcfcf" stroke-width="0.7"/>
<rect x="436" y="339.3" width="7.7" height="15.1" fill="none" stroke="#cfcfcf" stroke-width="0.7"/>
<rect x="436.6" y="340.3" width="6.5" height="6.5" fill="none" stroke="#cfcfcf" stroke-width="0.7"/>
<line x1="438.55" y1="343.55" x2="441.15" y2="343.55" stroke="#bdbdbd" stroke-width="0.7"/>
<line x1="439.85" y1="342.25" x2="439.85" y2="344.85" stroke="#bdbdbd" stroke-width="0.7"/>
<rect x="475" y="366.2" width="7.5" height="4.6" fill="none" stroke="#cfcfcf" stroke-width="0.7"/>
<line x1="477.45" y1="368.5" x2="480.05" y2="368.5" stroke="#bdbdbd" stroke-width="0.7"/>
<line x1="478.75" y1="367.2" x2="478.75" y2="369.8" stroke="#bdbdbd" stroke-width="0.7"/>
<line x1="448" y1="392" x2="448" y2="422" stroke="#cfcfcf" stroke-width="0.7"/>
<line x1="472" y1="378.5" x2="472" y2="422" stroke="#cfcfcf" stroke-width="0.7"/>
<line x1="448" y1="408" x2="472" y2="410.5" stroke="#cfcfcf" stroke-width="0.7"/>
<rect x="448" y="415.5" width="11" height="6.5" fill="none" stroke="#cfcfcf" stroke-width="0.7"/>
<rect x="461" y="415.5" width="11" height="6.5" fill="none" stroke="#cfcfcf" stroke-width="0.7"/>
<rect x="474" y="416.5" width="11.5" height="5.5" fill="none" stroke="#cfcfcf" stroke-width="0.7"/>
<line x1="478.45" y1="419.25" x2="481.05" y2="419.25" stroke="#bdbdbd" stroke-width="0.7"/>
<line x1="479.75" y1="417.95" x2="479.75" y2="420.55" stroke="#bdbdbd" stroke-width="0.7"/>
<rect x="496.4" y="237.3" width="44.6" height="6.4" fill="none" stroke="#cfcfcf" stroke-width="0.7"/>
<rect x="527" y="237.8" width="7" height="5.4" fill="none" stroke="#cfcfcf" stroke-width="0.7"/>
<line x1="527" y1="237.8" x2="534" y2="243.2" stroke="#cfcfcf" stroke-width="0.7"/>
<line x1="534" y1="237.8" x2="527" y2="243.2" stroke="#cfcfcf" stroke-width="0.7"/>
<rect x="519" y="237.8" width="7" height="5.4" fill="none" stroke="#cfcfcf" stroke-width="0.7"/>
<line x1="521.2" y1="240.5" x2="523.8" y2="240.5" stroke="#bdbdbd" stroke-width="0.7"/>
<line x1="522.5" y1="239.2" x2="522.5" y2="241.8" stroke="#bdbdbd" stroke-width="0.7"/>
<line x1="508" y1="237.3" x2="508" y2="243.7" stroke="#cfcfcf" stroke-width="0.7"/>
<rect x="496.4" y="243.7" width="5.2" height="19.1" fill="none" stroke="#cfcfcf" stroke-width="0.7"/>
<rect x="496.8" y="248" width="4.5" height="6" fill="none" stroke="#cfcfcf" stroke-width="0.7"/>
<line x1="497.75" y1="251" x2="500.35" y2="251" stroke="#bdbdbd" stroke-width="0.7"/>
<line x1="499.05" y1="249.7" x2="499.05" y2="252.3" stroke="#bdbdbd" stroke-width="0.7"/>
<circle cx="521.9" cy="273" r="3.4" fill="none" stroke="#cfcfcf" stroke-width="0.7"/>
<circle cx="512.4" cy="280.3" r="3.4" fill="none" stroke="#cfcfcf" stroke-width="0.7"/>
<circle cx="521.9" cy="288.8" r="3.4" fill="none" stroke="#cfcfcf" stroke-width="0.7"/>
<path d="M516.5 274.5H527.5V287H516.5Z" fill="none" stroke="#cfcfcf" stroke-width="0.7"/>
<rect x="496.4" y="285.8" width="5.2" height="8.9" fill="none" stroke="#cfcfcf" stroke-width="0.7"/>
<line x1="497.7" y1="290.25" x2="500.3" y2="290.25" stroke="#bdbdbd" stroke-width="0.7"/>
<line x1="499" y1="288.95" x2="499" y2="291.55" stroke="#bdbdbd" stroke-width="0.7"/>
<rect x="546.6" y="306" width="6" height="7.8" fill="none" stroke="#cfcfcf" stroke-width="0.7"/>
<line x1="548.3" y1="309.9" x2="550.9" y2="309.9" stroke="#bdbdbd" stroke-width="0.7"/>
<line x1="549.6" y1="308.6" x2="549.6" y2="311.2" stroke="#bdbdbd" stroke-width="0.7"/>
<line x1="581.8" y1="289" x2="581.8" y2="320" stroke="#cfcfcf" stroke-width="0.7"/>
<rect x="607.9" y="284.5" width="27.5" height="25.5" fill="none" stroke="#cfcfcf" stroke-width="0.7"/>
<line x1="629.2" y1="284.5" x2="629.2" y2="310" stroke="#cfcfcf" stroke-width="0.7"/>
<line x1="629.2" y1="297.25" x2="635.4" y2="297.25" stroke="#cfcfcf" stroke-width="0.7"/>
<line x1="629.2" y1="285.5" x2="627" y2="309" stroke="#cfcfcf" stroke-width="0.7"/>
<rect x="629" y="277.5" width="6.4" height="7" fill="none" stroke="#cfcfcf" stroke-width="0.7"/>
<rect x="629" y="310" width="6.4" height="7" fill="none" stroke="#cfcfcf" stroke-width="0.7"/>
<rect x="590.8" y="306" width="6.2" height="8.3" fill="none" stroke="#cfcfcf" stroke-width="0.7"/>
<line x1="592.6" y1="310.15" x2="595.2" y2="310.15" stroke="#bdbdbd" stroke-width="0.7"/>
<line x1="593.9" y1="308.85" x2="593.9" y2="311.45" stroke="#bdbdbd" stroke-width="0.7"/>
<rect x="575" y="227" width="6" height="6.5" fill="none" stroke="#cfcfcf" stroke-width="0.7"/>
<ellipse cx="590" cy="230" rx="2.8" ry="3.6" fill="none" stroke="#cfcfcf" stroke-width="0.7"/>
<rect x="596" y="227" width="6.5" height="6" fill="none" stroke="#cfcfcf" stroke-width="0.7"/>
<rect x="625.5" y="246.5" width="7" height="7" fill="none" stroke="#cfcfcf" stroke-width="0.7"/>
<circle cx="629" cy="250" r="2.3" fill="none" stroke="#cfcfcf" stroke-width="0.7"/>
<rect x="625.5" y="228" width="7.5" height="8" fill="none" stroke="#cfcfcf" stroke-width="0.7"/>
<rect x="612" y="228" width="8" height="6" fill="none" stroke="#cfcfcf" stroke-width="0.7"/>
<line x1="545.5" y1="228.4" x2="552.5" y2="228.4" stroke="#c8c8c8" stroke-width="0.8"/>
<line x1="545.5" y1="230.92" x2="552.5" y2="230.92" stroke="#c8c8c8" stroke-width="0.8"/>
<line x1="545.5" y1="233.44" x2="552.5" y2="233.44" stroke="#c8c8c8" stroke-width="0.8"/>
<line x1="545.5" y1="235.96" x2="552.5" y2="235.96" stroke="#c8c8c8" stroke-width="0.8"/>
<line x1="545.5" y1="238.48" x2="552.5" y2="238.48" stroke="#c8c8c8" stroke-width="0.8"/>
<line x1="545.5" y1="241" x2="552.5" y2="241" stroke="#c8c8c8" stroke-width="0.8"/>
<rect x="655.8" y="254" width="27.7" height="30.5" fill="none" stroke="#cfcfcf" stroke-width="0.7"/>
<line x1="677.3" y1="254" x2="677.3" y2="284.5" stroke="#cfcfcf" stroke-width="0.7"/>
<line x1="677.3" y1="269.25" x2="683.5" y2="269.25" stroke="#cfcfcf" stroke-width="0.7"/>
<line x1="677.3" y1="255" x2="675.1" y2="283.5" stroke="#cfcfcf" stroke-width="0.7"/>
<rect x="677" y="247" width="6.5" height="7" fill="none" stroke="#cfcfcf" stroke-width="0.7"/>
<rect x="677" y="284.5" width="6.5" height="7" fill="none" stroke="#cfcfcf" stroke-width="0.7"/>
<rect x="643" y="287" width="6.4" height="9" fill="none" stroke="#cfcfcf" stroke-width="0.7"/>
<line x1="644.9" y1="291.5" x2="647.5" y2="291.5" stroke="#bdbdbd" stroke-width="0.7"/>
<line x1="646.2" y1="290.2" x2="646.2" y2="292.8" stroke="#bdbdbd" stroke-width="0.7"/>
<rect x="279" y="267.9" width="81" height="5" fill="#f1f1f1" stroke="#d4d4d4" stroke-width="0.5"/><line x1="282" y1="270.3" x2="358" y2="270.3" stroke="#bcbcbc" stroke-width="1.4" stroke-dasharray="3.2 1.6"/>
<rect x="274.8" y="183" width="3.4" height="9" fill="none" stroke="#bbb" stroke-width="0.8"/>
<rect x="274.8" y="200" width="3.4" height="11" fill="none" stroke="#bbb" stroke-width="0.8"/>
<rect x="274.8" y="254.4" width="3.4" height="8.6" fill="none" stroke="#bbb" stroke-width="0.8"/>
<rect x="275" y="330.6" width="4.2" height="13.1" fill="none" stroke="#bbb" stroke-width="0.8"/>
<rect x="274.8" y="405" width="4.4" height="13.2" fill="none" stroke="#bbb" stroke-width="0.8"/>
<path d="M304.5 154.4 A12 12 0 0 0 292 166.3 L304.5 166.3" fill="none" stroke="#adadad" stroke-width="0.7"/>
<path d="M370.5 168 A9.5 9.5 0 0 0 361 177.5 L370.5 177.5" fill="none" stroke="#adadad" stroke-width="0.7"/>
<path d="M428.5 168 A9.5 9.5 0 0 1 438 177.5 L428.5 177.5" fill="none" stroke="#adadad" stroke-width="0.7"/>
<path d="M563 168 A9.5 9.5 0 0 0 553.5 177.3 L563 177.3" fill="none" stroke="#adadad" stroke-width="0.7"/>
<path d="M352 205.6 A13.7 13.7 0 0 1 365.7 219.4 L352 219.4" fill="none" stroke="#adadad" stroke-width="0.7"/>
<path d="M419.4 224.4 A15.6 15.6 0 0 1 403.8 240 L403.8 224.4" fill="none" stroke="#adadad" stroke-width="0.7"/>
<path d="M419.4 290 A15.6 15.6 0 0 1 403.8 305.6 L403.8 290" fill="none" stroke="#adadad" stroke-width="0.7"/>
<path d="M455.6 304.4 A16.2 16.2 0 0 1 471.8 320.6 L455.6 320.6" fill="none" stroke="#adadad" stroke-width="0.7"/>
<path d="M555.8 222 A13.8 13.8 0 0 1 569.5 208.2 L569.5 222" fill="none" stroke="#adadad" stroke-width="0.7"/>
<path d="M659 199.6 A10.5 10.5 0 0 0 648.5 210 L659 210" fill="none" stroke="#adadad" stroke-width="0.7"/>
<path d="M656.4 222.5 A13 13 0 0 1 643.3 235.5 L643.3 222.5" fill="none" stroke="#adadad" stroke-width="0.7"/>
<path d="M436.5 159.5 A17 15.5 0 0 0 453.5 175" fill="none" stroke="#adadad" stroke-width="0.7"/>
<path d="M554.5 140 A10 10 0 0 1 561 150" fill="none" stroke="#adadad" stroke-width="0.7"/>
<path d="M546 161.3 A12 12 0 0 1 534 173.3" fill="none" stroke="#adadad" stroke-width="0.7"/>
<path d="M576 244.8 A9.6 9.6 0 0 0 585.6 254.4" fill="none" stroke="#adadad" stroke-width="0.7"/>
<path d="M594.5 248 A9.6 9.6 0 0 1 604 257.5" fill="none" stroke="#adadad" stroke-width="0.7"/>
<path d="M549 127 A10 10 0 0 0 561 139" fill="none" stroke="#adadad" stroke-width="0.7"/>
<path d="M577 200 A13 13 0 0 0 590 212" fill="none" stroke="#adadad" stroke-width="0.7"/>
<path d="M407.5 356.5 A10 10 0 0 0 417.5 366.5 L417.5 356.5" fill="none" stroke="#adadad" stroke-width="0.7"/>
<path d="M420 358.7 A13.7 13.7 0 0 1 433.7 372.4" fill="none" stroke="#adadad" stroke-width="0.7"/>
<path d="M318 307.5 A11 11 0 0 1 329 314" fill="none" stroke="#adadad" stroke-width="0.7"/>
<path d="M380 320 A11 11 0 0 1 383 332 M394 338.8 A11 11 0 0 1 383 327.8" fill="none" stroke="#adadad" stroke-width="0.6"/>
<path d="M356 377.6 A16 16 0 0 0 372 393" fill="none" stroke="#adadad" stroke-width="0.6"/>
<path d="M420 358 A14 14 0 0 1 434 372" fill="none" stroke="#adadad" stroke-width="0.6"/>
<line x1="443.5" y1="195" x2="443.5" y2="208.5" stroke="#8a8a8a" stroke-width="0.9"/>
<path d="M443.5 208.5 A13.5 13.5 0 0 1 430 195" fill="none" stroke="#adadad" stroke-width="0.7"/>
<path d="M547.6 195 A13.4 13.4 0 0 0 561.2 208.4 L561.2 195" fill="none" stroke="#adadad" stroke-width="0.7"/>
<path d="M352.8 195.6 A13.7 13.7 0 0 0 366.5 209.3 L366.5 195.6" fill="none" stroke="#adadad" stroke-width="0.7"/>
<line x1="457.3" y1="256.5" x2="491" y2="256.5" stroke="#c9c9c9" stroke-width="0.8"/>
<line x1="457.3" y1="260.8" x2="491" y2="260.8" stroke="#c9c9c9" stroke-width="0.8"/>
<line x1="457.3" y1="265.1" x2="491" y2="265.1" stroke="#c9c9c9" stroke-width="0.8"/>
<line x1="457.3" y1="269.4" x2="491" y2="269.4" stroke="#c9c9c9" stroke-width="0.8"/>
<line x1="457.3" y1="273.7" x2="491" y2="273.7" stroke="#c9c9c9" stroke-width="0.8"/>
<line x1="457.3" y1="278" x2="491" y2="278" stroke="#c9c9c9" stroke-width="0.8"/>
<line x1="457.3" y1="282.3" x2="491" y2="282.3" stroke="#c9c9c9" stroke-width="0.8"/>
<line x1="457.3" y1="286.6" x2="491" y2="286.6" stroke="#c9c9c9" stroke-width="0.8"/>
<line x1="457.3" y1="290.9" x2="491" y2="290.9" stroke="#c9c9c9" stroke-width="0.8"/>
<line x1="457.3" y1="295.2" x2="491" y2="295.2" stroke="#c9c9c9" stroke-width="0.8"/>
<line x1="457.3" y1="299.5" x2="491" y2="299.5" stroke="#c9c9c9" stroke-width="0.8"/>
<line x1="474.8" y1="256.5" x2="474.8" y2="299.5" stroke="#c0c0c0" stroke-width="1.2"/>
<rect x="429.4" y="224.8" width="24.4" height="21.2" fill="none" stroke="#bbb" stroke-width="0.6"/>
<rect x="433" y="228" width="15.8" height="14.3" fill="none" stroke="#a8a8a8" stroke-width="0.7"/>
<line x1="433" y1="228" x2="448.8" y2="242.3" stroke="#a8a8a8" stroke-width="0.7"/>
<line x1="448.8" y1="228" x2="433" y2="242.3" stroke="#a8a8a8" stroke-width="0.7"/>
<rect x="433" y="253.5" width="15.8" height="30.5" fill="none" stroke="#a8a8a8" stroke-width="0.7"/>
<line x1="433" y1="253.5" x2="448.8" y2="284" stroke="#a8a8a8" stroke-width="0.7"/>
<line x1="448.8" y1="253.5" x2="433" y2="284" stroke="#a8a8a8" stroke-width="0.7"/>
<line x1="451.5" y1="229" x2="451.5" y2="243" stroke="#bbb" stroke-width="1.2"/>
<line x1="451.5" y1="256" x2="451.5" y2="280" stroke="#bbb" stroke-width="1.2"/>
<rect x="357.5" y="103.8" width="10" height="4.4" fill="none" stroke="#bdbdbd" stroke-width="0.8"/>
<rect x="453" y="107.5" width="12.5" height="4.3" fill="none" stroke="#bdbdbd" stroke-width="0.8"/>
<rect x="499.5" y="302.5" width="12.5" height="4.2" fill="none" stroke="#bdbdbd" stroke-width="0.8"/>
<rect x="646.5" y="302.5" width="10.5" height="4.2" fill="none" stroke="#bdbdbd" stroke-width="0.8"/>
<line x1="369.5" y1="110" x2="378" y2="104.5" stroke="#adadad" stroke-width="0.7"/>
<line x1="467" y1="114" x2="476.3" y2="108.6" stroke="#adadad" stroke-width="0.7"/>
<line x1="513" y1="299.5" x2="521.5" y2="304.5" stroke="#adadad" stroke-width="0.7"/>
<line x1="658.5" y1="299.5" x2="666.5" y2="304.5" stroke="#adadad" stroke-width="0.7"/>
<line x1="281" y1="193" x2="274" y2="203" stroke="#adadad" stroke-width="0.6"/>
<line x1="279.5" y1="343.7" x2="274" y2="353.5" stroke="#adadad" stroke-width="0.6"/>
<line x1="277" y1="395" x2="282" y2="404" stroke="#adadad" stroke-width="0.6"/>
<line x1="278" y1="246" x2="271" y2="258" stroke="#adadad" stroke-width="0.6"/>
</g>
<g id="walls">
<g fill="#2d2d2d">
<rect x="251" y="85" width="19.3" height="6.9"/>
<rect x="293" y="85" width="22.5" height="6.9"/>
<rect x="341" y="85" width="22" height="6.9"/>
<rect x="388" y="85" width="24" height="6.9"/>
<rect x="437.3" y="85" width="21.7" height="6.9"/>
<rect x="485" y="85" width="23.3" height="6.9"/>
<rect x="533.3" y="85" width="22.5" height="6.9"/>
<rect x="581" y="85" width="23" height="6.9"/>
<rect x="629" y="85" width="22" height="6.9"/>
<rect x="676.5" y="85" width="12.5" height="6.9"/>
<rect x="251" y="85" width="6.7" height="6.5"/>
<rect x="251" y="108.5" width="6.7" height="29.5"/>
<rect x="251" y="155" width="6.7" height="27.5"/>
<rect x="251" y="208" width="6.7" height="26.4"/>
<rect x="251" y="261" width="6.7" height="26"/>
<rect x="251" y="313" width="6.7" height="16"/>
<rect x="684.7" y="85" width="4.3" height="243.4"/>
<rect x="301.5" y="91" width="4" height="25"/>
<rect x="304" y="144" width="1.6" height="10.5"/>
<rect x="304" y="166.2" width="1.6" height="3.3"/>
<rect x="349.4" y="91" width="5.2" height="25"/>
<rect x="354.6" y="104" width="1.4" height="4"/>
<rect x="349.4" y="144" width="4" height="8.5"/>
<rect x="305" y="151" width="48.6" height="1.6"/>
<rect x="396.6" y="91" width="5.4" height="104.5"/>
<rect x="378" y="103.7" width="18" height="4.9"/>
<rect x="257" y="169" width="73.3" height="6.5"/>
<rect x="325.9" y="169" width="4.4" height="26.6"/>
<rect x="325.9" y="190.7" width="27.8" height="4.9"/>
<rect x="347.2" y="195" width="5.2" height="10.6"/>
<rect x="347.5" y="220" width="4.5" height="2.5"/>
<rect x="273" y="175" width="5.7" height="8"/>
<rect x="367.5" y="151" width="29.5" height="2"/>
<rect x="370" y="152.5" width="2" height="15.5"/>
<rect x="370" y="177.5" width="2" height="13.5"/>
<rect x="367.5" y="191" width="61.3" height="4.6"/>
<rect x="389.4" y="141.5" width="7.6" height="1.3"/>
<rect x="389.4" y="141.5" width="1.3" height="10"/>
<rect x="402" y="152" width="12" height="1.8"/>
<rect x="427" y="158.5" width="1.8" height="9.5"/>
<rect x="427" y="177.5" width="1.8" height="13.5"/>
<rect x="445.4" y="90.5" width="6.6" height="21.5"/>
<rect x="445.4" y="112" width="1.2" height="18"/>
<rect x="493.2" y="90.5" width="5.3" height="93.5"/>
<rect x="476.3" y="107" width="38.7" height="5"/>
<rect x="456" y="173" width="10.6" height="1.6"/>
<rect x="456" y="173" width="1.5" height="11"/>
<rect x="465.2" y="173" width="1.4" height="11"/>
<rect x="448" y="172.2" width="8" height="2.2"/>
<rect x="457.2" y="183" width="77.1" height="4.3"/>
<rect x="457.2" y="183" width="2.8" height="12"/>
<rect x="457.2" y="193.5" width="77.1" height="1.5"/>
<rect x="531.3" y="183" width="3" height="12"/>
<rect x="443.5" y="191.2" width="16.5" height="3.8"/>
<rect x="540.2" y="90.5" width="5.6" height="19.5"/>
<rect x="542.6" y="138" width="2.4" height="21.4"/>
<rect x="545" y="150.5" width="2.5" height="2"/>
<rect x="534.2" y="158.7" width="10.8" height="2.6"/>
<rect x="532" y="190.6" width="15.6" height="4.4"/>
<rect x="532" y="183" width="2" height="8"/>
<rect x="589.2" y="90.5" width="5.1" height="109"/>
<rect x="561.4" y="151" width="27.9" height="2.5"/>
<rect x="562.6" y="153.5" width="2.2" height="14.5"/>
<rect x="562.6" y="177" width="2.2" height="14.3"/>
<rect x="562" y="191" width="32.3" height="3.8"/>
<rect x="594" y="167.5" width="11" height="3.1"/>
<rect x="637" y="91.5" width="5" height="32.3"/>
<rect x="637.2" y="123.8" width="1.7" height="34.2"/>
<rect x="594" y="193.8" width="25.6" height="1.8"/>
<rect x="618" y="187" width="1.6" height="8.6"/>
<rect x="676" y="180" width="9" height="1.5"/>
<rect x="658.5" y="187" width="1.5" height="12.6"/>
<rect x="658.5" y="210" width="1.5" height="12"/>
<rect x="656.4" y="220" width="28.6" height="2.8"/>
<rect x="419.4" y="221.6" width="223.9" height="1.6"/>
<rect x="419.4" y="221.8" width="10.6" height="2.5"/>
<rect x="538" y="221.9" width="17.8" height="3.7"/>
<rect x="570" y="221.9" width="73.3" height="3.7"/>
<rect x="589.8" y="212.5" width="4.2" height="9.5"/>
<rect x="341.2" y="222.2" width="31.6" height="4.3"/>
<rect x="369" y="222.2" width="3.8" height="32.8"/>
<rect x="360" y="252" width="12.8" height="3"/>
<rect x="360" y="252" width="3.8" height="51.7"/>
<rect x="369.8" y="252" width="3" height="62"/>
<rect x="360" y="301.3" width="12" height="2.4"/>
<rect x="368.7" y="303" width="4.1" height="11"/>
<rect x="345" y="303.7" width="15" height="1.3"/>
<rect x="397.7" y="222" width="3.6" height="68"/>
<rect x="397.7" y="222" width="6.1" height="2.4"/>
<rect x="400.6" y="288" width="3.2" height="3.3"/>
<rect x="400" y="291" width="1.3" height="17"/>
<rect x="400" y="307" width="10" height="1.8"/>
<rect x="408.2" y="307" width="1.8" height="18"/>
<rect x="400" y="307" width="1.5" height="18"/>
<rect x="426" y="222" width="3" height="6"/>
<rect x="426" y="242.2" width="3" height="9.4"/>
<rect x="426" y="272.5" width="3" height="16.5"/>
<rect x="427" y="246.5" width="27.4" height="3.2"/>
<rect x="419.4" y="288" width="35" height="3"/>
<rect x="454" y="222" width="5.8" height="13.4"/>
<rect x="454" y="235" width="3.3" height="69.4"/>
<rect x="454.4" y="320.6" width="2.6" height="5.4"/>
<rect x="457" y="232.3" width="88" height="3.3"/>
<rect x="491" y="222" width="3.8" height="106"/>
<rect x="541.4" y="225.6" width="3.6" height="20.4"/>
<rect x="544.5" y="243" width="10" height="1.8"/>
<rect x="571.4" y="225.6" width="1.6" height="18.8"/>
<rect x="571.4" y="243" width="4.6" height="1.8"/>
<rect x="585.8" y="243" width="19.2" height="1.8"/>
<rect x="603.8" y="225.6" width="1.2" height="19.2"/>
<rect x="603.5" y="257.7" width="34.1" height="1.9"/>
<rect x="634.4" y="225.6" width="1.4" height="32.4"/>
<rect x="603.5" y="250" width="1.5" height="8"/>
<rect x="495.6" y="302" width="3.2" height="5"/>
<rect x="522.2" y="302" width="22.8" height="5.3"/>
<rect x="539.4" y="302" width="5.6" height="20.5"/>
<rect x="544.8" y="287" width="1.2" height="15"/>
<rect x="586.2" y="287" width="1.8" height="15"/>
<rect x="586.2" y="302" width="4.4" height="20"/>
<rect x="636.4" y="222" width="6" height="100"/>
<rect x="642.4" y="302" width="3.2" height="5.3"/>
<rect x="666.7" y="302" width="18.3" height="5.5"/>
<rect x="495.6" y="322" width="9.4" height="6.4"/>
<rect x="531.2" y="322" width="21.8" height="6.4"/>
<rect x="578" y="322" width="22" height="6.4"/>
<rect x="625.5" y="322" width="23.5" height="6.4"/>
<rect x="674.5" y="322" width="14.5" height="6.4"/>
<rect x="398" y="325.2" width="107" height="4.4"/>
<rect x="273.4" y="211" width="5" height="3"/>
<rect x="273.4" y="263" width="5.4" height="9"/>
<rect x="251" y="271.4" width="28" height="5.3"/>
<rect x="279" y="272.9" width="84.8" height="3.8"/>
<rect x="334.3" y="242" width="1.6" height="30.5"/>
<rect x="316.3" y="277" width="1.7" height="30.5"/>
<rect x="322" y="277" width="1.7" height="27"/>
<rect x="317" y="303" width="17.6" height="1.8"/>
<rect x="251" y="323" width="30" height="5.8"/>
<rect x="274.6" y="328.8" width="5" height="1.8"/>
<rect x="274.3" y="354" width="5.3" height="40.5"/>
<rect x="254.6" y="370.6" width="118.2" height="7"/>
<rect x="368.5" y="328" width="4.3" height="49.6"/>
<rect x="353" y="334.4" width="15.6" height="1.2"/>
<rect x="372.8" y="338.8" width="7.2" height="4"/>
<rect x="274.3" y="418.2" width="5.3" height="4.8"/>
<rect x="254" y="422.4" width="242.5" height="4.6"/>
<rect x="490.4" y="328" width="6" height="15.5"/>
<rect x="490.4" y="369.4" width="6" height="17"/>
<rect x="490.4" y="412.6" width="6" height="14.4"/>
<rect x="465" y="374" width="25.6" height="3.7"/>
<rect x="398" y="320" width="4" height="22.5"/>
<rect x="394" y="338.8" width="8" height="4"/>
<rect x="400.6" y="342.5" width="1.4" height="13.8"/>
<rect x="400.6" y="354.8" width="6.9" height="1.7"/>
<rect x="417.5" y="354.8" width="18.1" height="1.7"/>
<rect x="434" y="329.6" width="1.6" height="26.7"/>
<rect x="426.3" y="328.8" width="1.7" height="17.5"/>
<rect x="426.3" y="344.4" width="7.7" height="1.9"/>
<rect x="423" y="329" width="3.3" height="6"/>
<rect x="367.2" y="393.3" width="2.6" height="29.7"/>
<rect x="367.2" y="393.3" width="5.6" height="1.5"/>
<rect x="388.5" y="393.5" width="1.8" height="29.5"/>
<rect x="383" y="393.5" width="10.8" height="1.5"/>
<rect x="418.5" y="404.7" width="2.8" height="18.6"/>
<rect x="420" y="372.5" width="12.5" height="1.5"/>
</g>
</g>
<rect x="242.6" y="265.7" width="137.8" height="119.6" fill="none" stroke="#dd2127" stroke-width="2.3"/>
<g id="labels">
<rect x="294.7" y="114" width="72.6" height="30.4" rx="5.2" fill="#3b3b3b"/>
<circle cx="311.4" cy="129.2" r="12.3" fill="#5d5d5d"/>
<path transform="translate(311.4,129.2)" d="M2.2 -5.5V5.5H-0.6V-2.4L-3.7 -1.3V-3.6Q-0.9 -4.3 0 -5.5Z" fill="#fff"/>
<text x="328.5" y="133" font-size="10.5" fill="#fff" stroke="#fff" stroke-width="0.25" textLength="27.6" lengthAdjust="spacingAndGlyphs">57,1 м²</text>
<rect x="412" y="128.5" width="73.2" height="30.5" rx="5.2" fill="#3b3b3b"/>
<circle cx="426.9" cy="143.75" r="12.3" fill="#5d5d5d"/>
<path transform="translate(426.9,143.75)" d="M2.2 -5.5V5.5H-0.6V-2.4L-3.7 -1.3V-3.6Q-0.9 -4.3 0 -5.5Z" fill="#fff"/>
<text x="443.8" y="147.55" font-size="10.5" fill="#fff" stroke="#fff" stroke-width="0.25" textLength="32.2" lengthAdjust="spacingAndGlyphs">39,6 м²</text>
<rect x="508.2" y="108.4" width="73.2" height="30.3" rx="5.2" fill="#3b3b3b"/>
<circle cx="523.9" cy="123.55" r="12.3" fill="#5d5d5d"/>
<path transform="translate(523.9,123.55)" d="M2.2 -5.5V5.5H-0.6V-2.4L-3.7 -1.3V-3.6Q-0.9 -4.3 0 -5.5Z" fill="#fff"/>
<text x="541.1" y="127.35" font-size="10.5" fill="#fff" stroke="#fff" stroke-width="0.25" textLength="29.8" lengthAdjust="spacingAndGlyphs">40,1 м²</text>
<rect x="603.7" y="157.3" width="73.2" height="30.4" rx="5.2" fill="#3b3b3b"/>
<circle cx="619" cy="172.5" r="12.3" fill="#5d5d5d"/>
<text x="619" y="178.2" font-size="16" font-weight="bold" fill="#fff" text-anchor="middle">2</text>
<text x="636.6" y="176.3" font-size="10.5" fill="#fff" stroke="#fff" stroke-width="0.25" textLength="29.5" lengthAdjust="spacingAndGlyphs">75,7 м²</text>
<rect x="264.7" y="213.4" width="73.2" height="30.3" rx="5.2" fill="#3b3b3b"/>
<circle cx="279.7" cy="228.55" r="12.3" fill="#5d5d5d"/>
<text x="279.7" y="234.25" font-size="16" font-weight="bold" fill="#fff" text-anchor="middle">C</text>
<text x="296.8" y="232.35" font-size="10.5" fill="#fff" stroke="#fff" stroke-width="0.25" textLength="31.2" lengthAdjust="spacingAndGlyphs">38,7 м²</text>
<rect x="528.2" y="256.2" width="73" height="30.4" rx="5.2" fill="#3b3b3b"/>
<circle cx="542.8" cy="271.4" r="12.3" fill="#5d5d5d"/>
<text x="542.8" y="277.1" font-size="16" font-weight="bold" fill="#fff" text-anchor="middle">2</text>
<text x="560.4" y="275.2" font-size="10.5" fill="#fff" stroke="#fff" stroke-width="0.25" textLength="31.6" lengthAdjust="spacingAndGlyphs">58,8 м²</text>
<rect x="280.7" y="314" width="72.7" height="30.2" rx="5.2" fill="#3b3b3b"/>
<circle cx="295.1" cy="329.1" r="12.3" fill="#5d5d5d"/>
<path transform="translate(295.1,329.1)" d="M2.2 -5.5V5.5H-0.6V-2.4L-3.7 -1.3V-3.6Q-0.9 -4.3 0 -5.5Z" fill="#fff"/>
<text x="312.4" y="332.9" font-size="10.5" fill="#fff" stroke="#fff" stroke-width="0.25" textLength="32.1" lengthAdjust="spacingAndGlyphs">46,2 м²</text>
<rect x="392.7" y="374.8" width="73.2" height="30.3" rx="5.2" fill="#3b3b3b"/>
<circle cx="407.9" cy="389.95" r="12.3" fill="#5d5d5d"/>
<text x="407.9" y="395.65" font-size="16" font-weight="bold" fill="#fff" text-anchor="middle">2</text>
<text x="425.1" y="393.75" font-size="10.5" fill="#fff" stroke="#fff" stroke-width="0.25" textLength="30.9" lengthAdjust="spacingAndGlyphs">72,5 м²</text>
</g>
<g id="compass">
<circle cx="97.6" cy="201.6" r="12.6" fill="none" stroke="#555" stroke-width="0.8"/>
<circle cx="97.6" cy="201.6" r="10.4" fill="none" stroke="#888" stroke-width="0.5"/>
<polygon points="97.6,201.6 115.672,196.418 103.116,196.972" fill="#1a1a1a" stroke="#1a1a1a" stroke-width="0.5"/>
<polygon points="97.6,201.6 115.672,196.418 104.73,202.602" fill="#fff" stroke="#1a1a1a" stroke-width="0.5"/>
<polygon points="97.6,201.6 102.782,219.672 102.228,207.116" fill="#1a1a1a" stroke="#1a1a1a" stroke-width="0.5"/>
<polygon points="97.6,201.6 102.782,219.672 96.598,208.73" fill="#fff" stroke="#1a1a1a" stroke-width="0.5"/>
<polygon points="97.6,201.6 79.5283,206.782 92.0845,206.228" fill="#1a1a1a" stroke="#1a1a1a" stroke-width="0.5"/>
<polygon points="97.6,201.6 79.5283,206.782 90.4701,200.598" fill="#fff" stroke="#1a1a1a" stroke-width="0.5"/>
<polygon points="97.6,201.6 92.418,183.528 92.9719,196.084" fill="#1a1a1a" stroke="#1a1a1a" stroke-width="0.5"/>
<polygon points="97.6,201.6 92.418,183.528 98.602,194.47" fill="#fff" stroke="#1a1a1a" stroke-width="0.5"/>
<polygon points="97.6,201.6 111.32,176.848 99.0196,191.499" fill="#1a1a1a" stroke="#1a1a1a" stroke-width="0.5"/>
<polygon points="97.6,201.6 111.32,176.848 105.414,195.044" fill="#fff" stroke="#1a1a1a" stroke-width="0.5"/>
<polygon points="97.6,201.6 122.352,215.32 107.701,203.02" fill="#1a1a1a" stroke="#1a1a1a" stroke-width="0.5"/>
<polygon points="97.6,201.6 122.352,215.32 104.156,209.414" fill="#fff" stroke="#1a1a1a" stroke-width="0.5"/>
<polygon points="97.6,201.6 83.8799,226.352 96.1804,211.701" fill="#1a1a1a" stroke="#1a1a1a" stroke-width="0.5"/>
<polygon points="97.6,201.6 83.8799,226.352 89.7863,208.156" fill="#fff" stroke="#1a1a1a" stroke-width="0.5"/>
<polygon points="97.6,201.6 72.8483,187.88 87.4993,200.18" fill="#1a1a1a" stroke="#1a1a1a" stroke-width="0.5"/>
<polygon points="97.6,201.6 72.8483,187.88 91.0436,193.786" fill="#fff" stroke="#1a1a1a" stroke-width="0.5"/>
<line x1="114.661" y1="188.029" x2="117.322" y2="185.913" stroke="#222" stroke-width="1.1"/>
<line x1="119.26" y1="204.068" x2="122.638" y2="204.453" stroke="#222" stroke-width="1.1"/>
<line x1="111.171" y1="218.661" x2="113.287" y2="221.322" stroke="#222" stroke-width="1.1"/>
<line x1="95.1322" y1="223.26" x2="94.7473" y2="226.638" stroke="#222" stroke-width="1.1"/>
<line x1="80.5391" y1="215.171" x2="77.8783" y2="217.287" stroke="#222" stroke-width="1.1"/>
<line x1="75.9401" y1="199.132" x2="72.562" y2="198.747" stroke="#222" stroke-width="1.1"/>
<line x1="84.0292" y1="184.539" x2="81.9126" y2="181.878" stroke="#222" stroke-width="1.1"/>
<line x1="100.068" y1="179.94" x2="100.453" y2="176.562" stroke="#222" stroke-width="1.1"/>
<text transform="translate(114.374,171.338) rotate(29)" font-size="7.4" text-anchor="middle" fill="#111" y="2.6">С</text>
<text transform="translate(127.862,218.374) rotate(119)" font-size="7.4" text-anchor="middle" fill="#111" y="2.6">В</text>
<text transform="translate(80.8256,231.862) rotate(209)" font-size="7.4" text-anchor="middle" fill="#111" y="2.6">Ю</text>
<text transform="translate(67.3382,184.826) rotate(299)" font-size="7.4" text-anchor="middle" fill="#111" y="2.6">З</text>
</g>
<g id="mini">
<rect x="101.9" y="354" width="41.8" height="20.7" fill="#fff" stroke="#8a8a8a" stroke-width="0.9"/>
<rect x="64.1" y="382.8" width="24.7" height="44.2" fill="#fff" stroke="#8a8a8a" stroke-width="0.9"/>
<path d="M64.1 354H101.9V374.7H85.7V382.8H64.1Z" fill="#a6a6a6" stroke="#555" stroke-width="0.9"/>
</g>
<g id="titles" font-weight="bold" font-size="17.2" stroke-width="0.3">
<text x="63.4" y="68.9" fill="#5b5853" stroke="#5b5853" textLength="81.4" lengthAdjust="spacingAndGlyphs">СЕКЦИЯ 2</text>
<text x="63.4" y="94.6" fill="#0c0c0c" stroke="#0c0c0c" textLength="137" lengthAdjust="spacingAndGlyphs">План 2-8 этажей</text>
<text x="403.4" y="56.5" fill="#0c0c0c" stroke="#0c0c0c" textLength="137" lengthAdjust="spacingAndGlyphs">ул. Ворошилова</text>
<text x="433.7" y="462.2" fill="#0c0c0c" stroke="#0c0c0c" textLength="75" lengthAdjust="spacingAndGlyphs">Секция 1</text>
<text transform="translate(216.8,324.3) rotate(-90)" fill="#0c0c0c" stroke="#0c0c0c" textLength="149.5" lengthAdjust="spacingAndGlyphs">ул. Колесниченко</text>
<text transform="translate(733.2,288.5) rotate(-90)" fill="#0c0c0c" stroke="#0c0c0c" textLength="75.2" lengthAdjust="spacingAndGlyphs">Секция 3</text>
</g>
<g id="wm">
<defs><clipPath id="wmc"><rect x="40" y="230.4" width="720" height="43.5"/></clipPath></defs><g opacity="0.30" clip-path="url(#wmc)" fill="none" stroke="#8c8c8c"><path d="M60.7 273.9V233.3H81.8Q87.8 233.3 87.8 239.3V245Q87.8 251 81.8 251H60.7M81.8 251H83.4Q89.4 251 89.4 257V265Q89.4 271 83.4 271H60.7 M133.9 233.3H109.9Q102.9 233.3 102.9 240.3V264Q102.9 271 109.9 271H133.9 M172.3 273.9V233.3H151.8Q144.8 233.3 144.8 240.3V248Q144.8 255 151.8 255H172.3 M212.9 230.4V273.9M241.1 230.4V273.9M212.9 251.4H241.1 M287 233.3H262.7Q257.7 233.3 257.7 238.3V266Q257.7 271 262.7 271H287M257.7 251.4H286.3 M343.4 273.9V233.3H363.5Q369.5 233.3 369.5 239.3V245Q369.5 251 363.5 251H343.4M363.5 251H365.1Q371.1 251 371.1 257V265Q371.1 271 365.1 271H343.4 M385.5 230.4V273.9M413.7 230.4V273.9 M451.8 230.4V273.9 M488.2 230.4V273.9M515.6 230.4V273.9 M531.9 230.4V273.9M575.9 230.4V273.9 M598.9 233.3H611.7Q618.7 233.3 618.7 240.3V264Q618.7 271 611.7 271H598.9Q591.9 271 591.9 264V240.3Q591.9 233.3 598.9 233.3Z M664 233.3H640.4Q633.4 233.3 633.4 240.3V264Q633.4 271 640.4 271H664 M670.5 233.3H706M688.25 233.3V273.9 M716.9 230.4V271H738.1Q745.1 271 745.1 264V260.8Q745.1 253.8 738.1 253.8H716.9" stroke-width="5.8" stroke-linejoin="miter"/><path d="M156 256.5L143 279.12 M292.38 282.6L315.62 221.7 M334.62 282.6L311.38 221.7 M385.6 282.6L413.6 221.7 M460.24 259.94L417.76 221.96 M460.56 242.54L416.64 282.86 M443.76 259.94L484.44 221.96 M443.04 242.54L486.96 282.86 M488.46 282.6L515.34 221.7 M531.84 221.7L556.06 282.6 M575.96 221.7L551.74 282.6" stroke-width="6.6"/></g>
</g>
</svg>
</body></html>
